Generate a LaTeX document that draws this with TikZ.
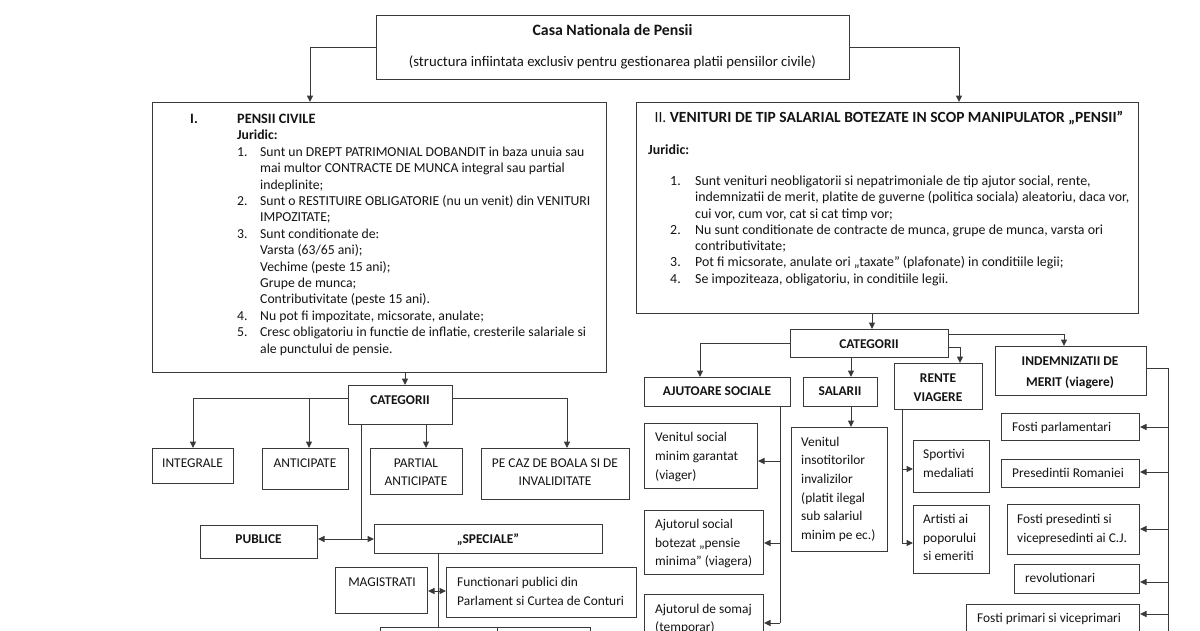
\documentclass[tikz,border=0pt]{standalone}
\usepackage{fontspec}
\setmainfont{Carlito}
\usetikzlibrary{arrows.meta}
\definecolor{lc}{HTML}{3A3A3A}
\definecolor{tc}{HTML}{141414}
\newcommand{\fn}{\fontsize{13.4}{16.4}\selectfont}
\newcommand{\fm}{\fontsize{13.4}{18.7}\selectfont}
\newcommand{\bx}[5]{\node[box, minimum width={(#4)-(#2)}, minimum height={(#5)-(#3)}] (#1) at (#2,#3) {};}
\begin{document}
\begin{tikzpicture}[x=1pt,y=-1pt,
  box/.style={draw=lc, line width=1pt, inner sep=0pt, anchor=north west},
  arr/.style={draw=lc, line width=1pt, -{Triangle[length=6.5pt,width=6pt]}},
  ln/.style={draw=lc, line width=1pt},
  t/.style={inner sep=0pt, font=\fn, text=tc},
  tm/.style={inner sep=0pt, font=\fm, text=tc}]
\useasboundingbox (0,0) rectangle (1200,630);
\fill[white] (0,0) rectangle (1200,630);
\clip (0,0) rectangle (1200,630);
% ---------- boxes ----------
\bx{top}{376}{15}{849}{79}
\bx{lbox}{152}{102}{606}{372}
\bx{rbox}{636}{102}{1138}{313}
\bx{lcat}{348}{385}{452}{424}
\bx{integ}{152}{448}{233}{483}
\bx{antic}{262}{448}{348}{489}
\bx{partial}{370}{448}{462}{494}
\bx{pecaz}{481}{448}{629}{499}
\bx{publice}{200}{525}{317}{558}
\bx{speciale}{374}{524}{602}{553}
\bx{magis}{335}{567}{427}{613}
\bx{functi}{446}{567}{636}{617}
\bx{botA}{380}{627}{497}{670}
\bx{botB}{497}{627}{590}{670}
\bx{rcat}{790}{329}{948}{357}
\bx{ajut}{644}{377}{790}{406}
\bx{salarii}{803}{377}{877}{406}
\bx{venitul}{791}{427}{887}{551}
\bx{vsmg}{644}{423}{757}{488}
\bx{asbp}{644}{510}{763}{574}
\bx{somaj}{644}{594}{763}{660}
\bx{rente}{894}{363}{982}{409}
\bx{sport}{913}{440}{989}{492}
\bx{artist}{913}{505}{989}{573}
\bx{indem}{995}{346}{1146}{395}
\bx{fparl}{1001}{413}{1139}{440}
\bx{pres}{1001}{459}{1139}{487}
\bx{fpcj}{1007}{504}{1139}{554}
\bx{revol}{1014}{564}{1139}{593}
\bx{fprim}{966}{604}{1139}{660}
% ---------- connectors ----------
\draw[arr] (top.west) -| (lbox.north -| 310,0);
\draw[arr] (top.east) -| (rbox.north -| 959,0);
\draw[arr] (lbox.south -| 405,0) -- (lcat.north -| 405,0);
\coordinate (jl) at (309,398);
\draw[arr] (lcat.west |- 0,398) -| (integ.north -| 193,0);
\draw[arr] (jl) -- (antic.north -| jl);
\draw[arr] (lcat.south -| 426,0) -- (partial.north -| 426,0);
\draw[arr] (lcat.east |- 0,398) -| (pecaz.north -| 567,0);
\coordinate (jp) at (361,539);
\draw[ln] (lcat.south -| jp) -- (jp);
\draw[arr] (jp) -- (publice.east |- jp);
\draw[arr] (jp) -- (speciale.west |- jp);
\coordinate (js) at (438,591);
\draw[ln] (speciale.south -| js) -- (botA.north -| js);
\draw[arr] (js) -- (magis.east |- js);
\draw[arr] (js) -- (functi.west |- js);
% right
\draw[arr] (rbox.south -| 872,0) -- (rcat.north -| 872,0);
\draw[arr] (rcat.west |- 0,343) -| (ajut.north -| 700,0);
\draw[arr] (rcat.south -| 851,0) -- (salarii.north -| 851,0);
\draw[arr] (salarii.south -| 851,0) -- (venitul.north -| 851,0);
\draw[arr] (rcat.east |- 0,347) -| (rente.north -| 960,0);
\draw[arr] (rcat.east |- 0,334) -| (indem.north -| 1064,0);
\coordinate (ja1) at (780,461);
\coordinate (ja2) at (780,543);
\coordinate (ja3) at (780,623);
\draw[ln] (ajut.south -| ja1) -- (ja3);
\draw[arr] (ja1) -- (vsmg.east |- ja1);
\draw[arr] (ja2) -- (asbp.east |- ja2);
\draw[arr] (ja3) -- (somaj.east |- ja3);
\coordinate (jr1) at (902,469);
\coordinate (jr2) at (902,543);
\draw[ln] (rente.south -| jr1) -- (jr2);
\draw[arr] (jr1) -- (sport.west |- jr1);
\draw[arr] (jr2) -- (artist.west |- jr2);
\coordinate (ji0) at (1168,368);
\coordinate (ji1) at (1168,427);
\coordinate (ji2) at (1168,472);
\coordinate (ji3) at (1168,529);
\coordinate (ji4) at (1168,582);
\coordinate (ji5) at (1168,614);
\coordinate (jiend) at (1168,660);
\draw[ln] (indem.east |- ji0) -- (ji0) -- (jiend);
\draw[arr] (ji1) -- (fparl.east |- ji1);
\draw[arr] (ji2) -- (pres.east |- ji2);
\draw[arr] (ji3) -- (fpcj.east |- ji3);
\draw[arr] (ji4) -- (revol.east |- ji4);
\draw[arr] (ji5) -- (fprim.east |- ji5);
% ---------- texts ----------
\node[t, anchor=base, font=\bfseries\fontsize{15.8}{19}\selectfont] (ttop1) at (612.5,35.5) {Casa Nationala de Pensii};
\node[t, anchor=base, font=\fontsize{14.7}{18}\selectfont] (ttop2) at (612.5,66.8) {(structura infiintata exclusiv pentru gestionarea platii pensiilor civile)};
\node[t, anchor=base west, font=\bfseries\fontsize{14.3}{17}\selectfont] (tI) at (190,123.5) {I.};
\node[t, anchor=north west, font=\fontsize{13.7}{16.4}\selectfont] (tl) at (237,111.8) {\begin{tabular}{@{}p{23pt}@{}l@{}}
\multicolumn{2}{@{}l@{}}{\fontsize{14.3}{16.4}\selectfont\textbf{PENSII CIVILE}}\\
\multicolumn{2}{@{}l@{}}{\textbf{Juridic:}}\\
1. & Sunt un DREPT PATRIMONIAL DOBANDIT in baza unuia sau\\
 & mai multor CONTRACTE DE MUNCA integral sau partial\\
 & indeplinite;\\
2. & Sunt o RESTITUIRE OBLIGATORIE (nu un venit) din VENITURI\\
 & IMPOZITATE;\\
3. & Sunt conditionate de:\\
 & Varsta (63/65 ani);\\
 & Vechime (peste 15 ani);\\
 & Grupe de munca;\\
 & Contributivitate (peste 15 ani).\\
4. & Nu pot fi impozitate, micsorate, anulate;\\
5. & Cresc obligatoriu in functie de inflatie, cresterile salariale si\\
 & ale punctului de pensie.
\end{tabular}};
\node[t, anchor=base, font=\fontsize{15.5}{18}\selectfont] (trt) at (889,122.5) {II. \textbf{VENITURI DE TIP SALARIAL BOTEZATE IN SCOP MANIPULATOR „PENSII”}};
\node[t, anchor=base west, font=\fontsize{13.9}{16.3}\selectfont] (trj) at (648,154.5) {\textbf{Juridic:}};
\node[t, anchor=north west, font=\fontsize{13.9}{16.3}\selectfont] (tr) at (670,173.8) {\begin{tabular}{@{}p{25pt}@{}l@{}}
1. & Sunt venituri neobligatorii si nepatrimoniale de tip ajutor social, rente,\\
 & indemnizatii de merit, platite de guverne (politica sociala) aleatoriu, daca vor,\\
 & cui vor, cum vor, cat si cat timp vor;\\
2. & Nu sunt conditionate de contracte de munca, grupe de munca, varsta ori\\
 & contributivitate;\\
3. & Pot fi micsorate, anulate ori „taxate” (plafonate) in conditiile legii;\\
4. & Se impoziteaza, obligatoriu, in conditiile legii.
\end{tabular}};
% left categories
\node[t, anchor=base] (tlcat) at (400,404.3) {\textbf{CATEGORII}};
\node[t, anchor=base] (tinteg) at (192.5,467.3) {INTEGRALE};
\node[t, anchor=base] (tantic) at (305,467.3) {ANTICIPATE};
\node[t, anchor=north, align=center, font=\fontsize{13.4}{18}\selectfont] (tpart) at (416,454.7) {\strut PARTIAL\\ANTICIPATE};
\node[t, anchor=north, align=center, font=\fontsize{13.4}{18}\selectfont] (tpecaz) at (555,454.7) {\strut PE CAZ DE BOALA SI DE\\INVALIDITATE};
\node[t, anchor=base] (tpub) at (258.5,543.3) {\textbf{PUBLICE}};
\node[t, anchor=base] (tspec) at (488,543.3) {\textbf{„SPECIALE”}};
\node[t, anchor=base] (tmag) at (382,586.3) {MAGISTRATI};
\node[t, anchor=north west, align=left, font=\fontsize{13.4}{19}\selectfont] (tfun) at (457,573.0) {\strut Functionari publici din\\Parlament si Curtea de Conturi};
% right categories
\node[t, anchor=base] (trcat) at (869,348.3) {\textbf{CATEGORII}};
\node[t, anchor=base] (tajut) at (717,395.3) {\textbf{AJUTOARE SOCIALE}};
\node[t, anchor=base] (tsal) at (840,395.3) {\textbf{SALARII}};
\node[tm, anchor=north west, align=left] (tven) at (801,432.8) {\strut Venitul\\insotitorilor\\invalizilor\\(platit ilegal\\sub salariul\\minim pe ec.)};
\node[tm, anchor=north west, align=left] (tvsmg) at (655,428.5) {\strut Venitul social\\minim garantat\\(viager)};
\node[tm, anchor=north west, align=left] (tasbp) at (655,515.2) {\strut Ajutorul social\\botezat „pensie\\minima” (viagera)};
\node[tm, anchor=north west, align=left] (tsom) at (655,599.9) {\strut Ajutorul de somaj\\(temporar)};
\node[t, anchor=north, align=center, font=\bfseries\fontsize{13.4}{19.5}\selectfont] (tren) at (938,368.6) {\strut RENTE\\VIAGERE};
\node[tm, anchor=north west, align=left] (tspo) at (923,445.2) {\strut Sportivi\\medaliati};
\node[tm, anchor=north west, align=left] (tart) at (923,510.2) {\strut Artisti ai\\poporului\\si emeriti};
\node[t, anchor=north, align=center, font=\bfseries\fontsize{13.4}{20.7}\selectfont] (tind) at (1070,351.0) {\strut INDEMNIZATII DE\\MERIT (viagere)};
\node[t, anchor=base west] (tfp) at (1012,431.3) {Fosti parlamentari};
\node[t, anchor=base west] (tpr) at (1012,477.3) {Presedintii Romaniei};
\node[tm, anchor=north west, align=left] (tcj) at (1017,510.2) {\strut Fosti presedinti si\\vicepresedinti ai C.J.};
\node[t, anchor=base west] (trev) at (1025,582.3) {revolutionari};
\node[t, anchor=base west] (tprim) at (977,622.3) {Fosti primari si viceprimari};
\end{tikzpicture}
\end{document}
